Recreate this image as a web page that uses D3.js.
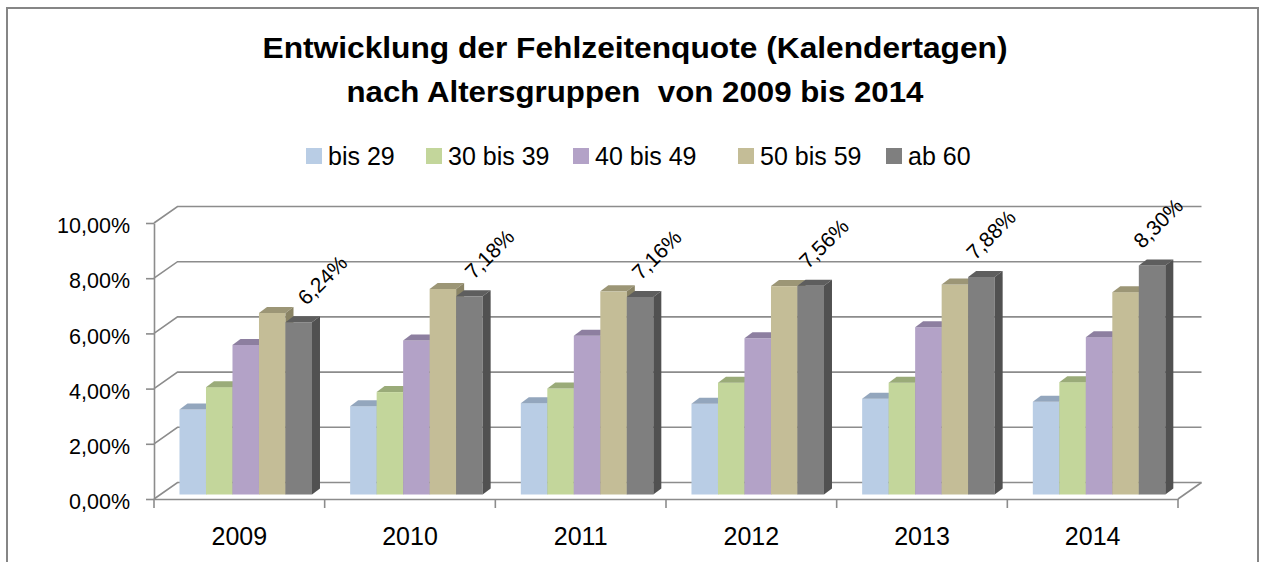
<!DOCTYPE html>
<html>
<head>
<meta charset="utf-8">
<script src="https://cdn.jsdelivr.net/npm/d3@7"></script>
<style>
  body { margin: 0; background: #fff; }
  text { font-family: "Liberation Sans", Arial, sans-serif; fill: #000; }
</style>
</head>
<body>
<svg id="chart"></svg>
<script>
// data (percent)
var years = ["2009", "2010", "2011", "2012", "2013", "2014"];
var groups = ["bis 29", "30 bis 39", "40 bis 49", "50 bis 59", "ab 60"];
var bis29 = [3.08, 3.20, 3.31, 3.29, 3.47, 3.36];
var bis39 = [3.89, 3.71, 3.84, 4.05, 4.05, 4.07];
var bis49 = [5.42, 5.58, 5.75, 5.66, 6.06, 5.70];
var bis59 = [6.58, 7.45, 7.36, 7.55, 7.61, 7.33];
var ab60  = [6.24, 7.18, 7.16, 7.56, 7.88, 8.30];
var yTicks = [0, 2, 4, 6, 8, 10];
var titleLines = ["Entwicklung der Fehlzeitenquote (Kalendertagen)", "nach Altersgruppen  von 2009 bis 2014"];

var seriesValues = [bis29, bis39, bis49, bis59, ab60];
var front = ["#b9cde5", "#c3d69b", "#b3a2c7", "#c4bd97", "#7f7f7f"],
    top_ = ["#93a6bd", "#9aab79", "#8d7fa0", "#9c9676", "#5e5e5e"],
    side = ["#8196ad", "#899a69", "#7c6f90", "#8a8465", "#515151"];

var width = 1264, height = 562,
    gridCol = "#8c8c8c",
    depth = {x: 23.5, y: -16.5},        // full depth of the floor
    barOff = {x: 6.4, y: -4.5},         // front plane of the bars
    barDepth = {x: 8, y: -6};

var de = d3.formatLocale({decimal: ",", thousands: ".", grouping: [3], currency: ["", " €"]}),
    fmt = de.format(".2f");

var svg = d3.select("#chart").attr("width", width).attr("height", height);

// outer frame
svg.append("rect")
    .attr("x", 7).attr("y", 8)
    .attr("width", 1251).attr("height", 620)
    .attr("fill", "#fff")
    .attr("stroke", "#868686").attr("stroke-width", 2);

// title
svg.selectAll(".title")
    .data(titleLines)
  .enter().append("text")
    .attr("class", "title")
    .attr("x", 635)
    .attr("y", function(d, i) { return 58 + i * 43.5; })
    .attr("text-anchor", "middle")
    .attr("textLength", function(d, i) { return i ? 577 : 745; })
    .attr("lengthAdjust", "spacingAndGlyphs")
    .style("white-space", "pre")
    .style("font-size", "30px")
    .style("font-weight", "bold")
    .text(function(d) { return d; });

// legend
var legX = [306, 426, 573, 738, 886];
var legend = svg.selectAll(".leg")
    .data(groups)
  .enter().append("g")
    .attr("class", "leg")
    .attr("transform", function(d, i) { return "translate(" + legX[i] + ",0)"; });
legend.append("rect")
    .attr("x", 0).attr("y", 148)
    .attr("width", 16).attr("height", 16)
    .attr("fill", function(d, i) { return front[i]; });
legend.append("text")
    .attr("x", 22).attr("y", 165)
    .style("font-size", "25px")
    .text(function(d) { return d; });

// scales
var x = d3.scaleBand().domain(years).range([154, 1178]),
    x1 = d3.scaleBand().domain(groups).range([0, x.bandwidth()]).paddingOuter(0.72),
    y = d3.scaleLinear().domain([0, 10]).range([499, 223]);

// back wall, left wall and floor lines
var grid = svg.append("g").attr("fill", "none").attr("stroke", gridCol).attr("stroke-width", 1.6);
grid.selectAll("path.gl")
    .data(yTicks)
  .enter().append("path")
    .attr("class", "gl")
    .attr("d", function(d) {
        return "M154," + y(d) + "l" + depth.x + "," + depth.y + "H" + (1178 + depth.x);
    });
grid.append("path")
    .attr("d", "M1178," + y(0) + "l" + depth.x + "," + depth.y);

// bars
var bars = svg.append("g");
years.forEach(function(yr, j) {
    groups.forEach(function(g, i) {
        var v = seriesValues[i][j],
            x0 = x(yr) + x1(g) + barOff.x,
            w = x1.bandwidth(),
            y0 = y(0) + barOff.y,
            yt = y(v) + barOff.y;
        bars.append("rect")
            .attr("x", x0).attr("y", yt)
            .attr("width", w).attr("height", y0 - yt)
            .attr("fill", front[i]);
        bars.append("path")
            .attr("d", "M" + x0 + "," + yt + "l" + barDepth.x + "," + barDepth.y +
                "h" + w + "l" + (-barDepth.x) + "," + (-barDepth.y) + "Z")
            .attr("fill", top_[i]);
        bars.append("path")
            .attr("d", "M" + (x0 + w) + "," + yt + "l" + barDepth.x + "," + barDepth.y +
                "V" + (y0 + barDepth.y) + "l" + (-barDepth.x) + "," + (-barDepth.y) + "Z")
            .attr("fill", side[i]);
    });
});

// value labels on the "ab 60" bars (excel shifts them a bit less to the right each year)
svg.selectAll(".val")
    .data(ab60)
  .enter().append("text")
    .attr("class", "val")
    .attr("transform", function(d, j) {
        var px = x(years[j]) + x1("ab 60") + barOff.x + 21 - 3.5 * j,
            py = y(d) + barOff.y - 16;
        return "translate(" + px + "," + py + ") rotate(-45)";
    })
    .style("font-size", "21px")
    .text(function(d) { return fmt(d) + "%"; });

// y axis
var yAxis = svg.append("g")
    .attr("transform", "translate(154,0)")
    .call(d3.axisLeft(y).tickValues(yTicks).tickSize(8).tickSizeOuter(0).tickPadding(16)
        .tickFormat(function(d) { return fmt(d) + "%"; }));
yAxis.select(".domain").attr("stroke", gridCol).attr("stroke-width", 1.6);
yAxis.selectAll(".tick line").attr("stroke", gridCol).attr("stroke-width", 1.6);
yAxis.selectAll("text").attr("dy", "0.45em").style("font-size", "21.5px").style("font-family", null);

// x axis
var xAxis = svg.append("g")
    .attr("transform", "translate(0," + y(0) + ")")
    .call(d3.axisBottom(x).tickSize(0).tickPadding(28));
xAxis.select(".domain").attr("stroke", gridCol).attr("stroke-width", 1.6);
xAxis.selectAll("text").style("font-size", "25px").style("font-family", null);
xAxis.selectAll("line.bound")
    .data([years[0]].concat(years))
  .enter().append("line")
    .attr("class", "bound")
    .attr("x1", function(d, i) { return i ? x(d) + x.bandwidth() : x(d); })
    .attr("x2", function(d, i) { return i ? x(d) + x.bandwidth() : x(d); })
    .attr("y1", 0).attr("y2", 9)
    .attr("stroke", gridCol).attr("stroke-width", 1.6);
</script>
</body>
</html>
